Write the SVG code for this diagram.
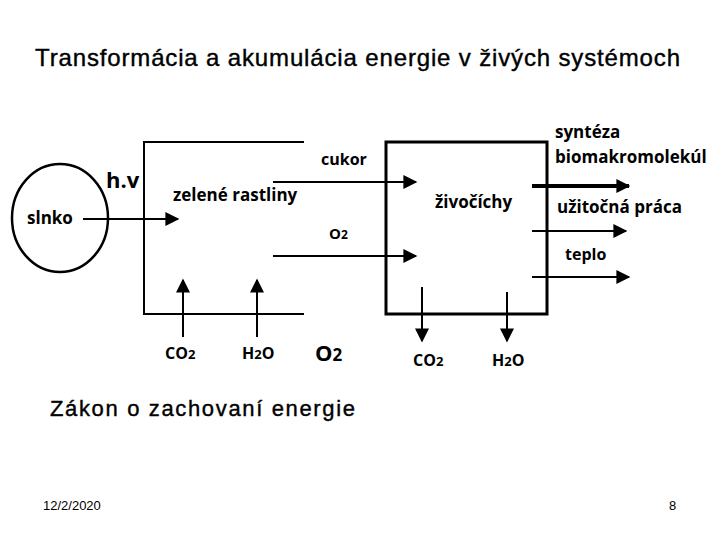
<svg xmlns="http://www.w3.org/2000/svg" width="720" height="540" viewBox="0 0 720 540">
<style>
.t{font-family:"Liberation Sans",Arial,sans-serif;fill:#000}
.l{font-family:"Open Sans","DejaVu Sans",sans-serif;font-weight:bold;fill:#000}
.ln{stroke:#000;stroke-width:2;fill:none}
</style>
<defs>
<marker id="ahb" viewBox="0 0 10 10" refX="9" refY="5" markerWidth="16" markerHeight="14" markerUnits="userSpaceOnUse" orient="auto">
<path d="M0,0 L10,5 L0,10 z" fill="#000"/>
</marker>
</defs>
<rect width="720" height="540" fill="#fff"/>
<text class="t" x="35" y="66" font-size="24" textLength="645" lengthAdjust="spacing" stroke="#000" stroke-width="0.4">Transformácia a akumulácia energie v živých systémoch</text>
<g id="slnko">
<ellipse cx="60" cy="218" rx="48" ry="54" stroke="#000" stroke-width="2.5" fill="none"/>
<text class="l" x="27" y="224" font-size="17">slnko</text>
</g>
<text class="l" x="106" y="188" font-size="22">h.v</text>
<g id="rastliny">
<path class="ln" d="M304,142 H144 V314 H304"/>
<text class="l" x="173" y="201" font-size="17">zelené rastliny</text>
</g>
<g id="zivocichy">
<rect x="386" y="142" width="161" height="172" stroke="#000" stroke-width="3" fill="none"/>
<text class="l" x="435" y="208" font-size="17">živočíchy</text>
</g>
<g id="connectors">
<line class="ln" x1="83" y1="219" x2="178" y2="219" marker-end="url(#ahb)"/>
<line class="ln" x1="273" y1="182" x2="416" y2="182" marker-end="url(#ahb)"/>
<line class="ln" x1="273" y1="256" x2="416" y2="256" marker-end="url(#ahb)"/>
<line class="ln" x1="183" y1="337" x2="183" y2="280" marker-end="url(#ahb)"/>
<line class="ln" x1="257" y1="337" x2="257" y2="280" marker-end="url(#ahb)"/>
<line class="ln" x1="422" y1="287" x2="422" y2="341" marker-end="url(#ahb)"/>
<line class="ln" x1="507" y1="292" x2="507" y2="341" marker-end="url(#ahb)"/>
<line x1="532" y1="186" x2="629" y2="186" stroke="#000" stroke-width="4" marker-end="url(#ahb)"/>
<line class="ln" x1="532" y1="231" x2="626" y2="231" marker-end="url(#ahb)"/>
<line class="ln" x1="532" y1="277" x2="629" y2="277" marker-end="url(#ahb)"/>
</g>
<text class="l" x="321" y="165" font-size="16">cukor</text>
<text class="l" x="329" y="239" font-size="15">O<tspan font-size="12">2</tspan></text>
<text class="l" x="165" y="359" font-size="16">CO<tspan font-size="13">2</tspan></text>
<text class="l" x="242" y="359" font-size="16">H<tspan font-size="13">2</tspan>O</text>
<text class="l" x="315" y="361" font-size="22">O<tspan font-size="17">2</tspan></text>
<text class="l" x="413" y="366" font-size="16">CO<tspan font-size="13">2</tspan></text>
<text class="l" x="492" y="366" font-size="16">H<tspan font-size="13">2</tspan>O</text>
<text class="l" x="555" y="138" font-size="17">syntéza</text>
<text class="l" x="555" y="163" font-size="17">biomakromolekúl</text>
<text class="l" x="557" y="213" font-size="17">užitočná práca</text>
<text class="l" x="565" y="260" font-size="16">teplo</text>
<text class="t" x="50" y="416" font-size="22" textLength="305" lengthAdjust="spacing" stroke="#000" stroke-width="0.4">Zákon o zachovaní energie</text>
<text class="t" x="43" y="510" font-size="13">12/2/2020</text>
<text class="t" x="669" y="510" font-size="13">8</text>
</svg>
